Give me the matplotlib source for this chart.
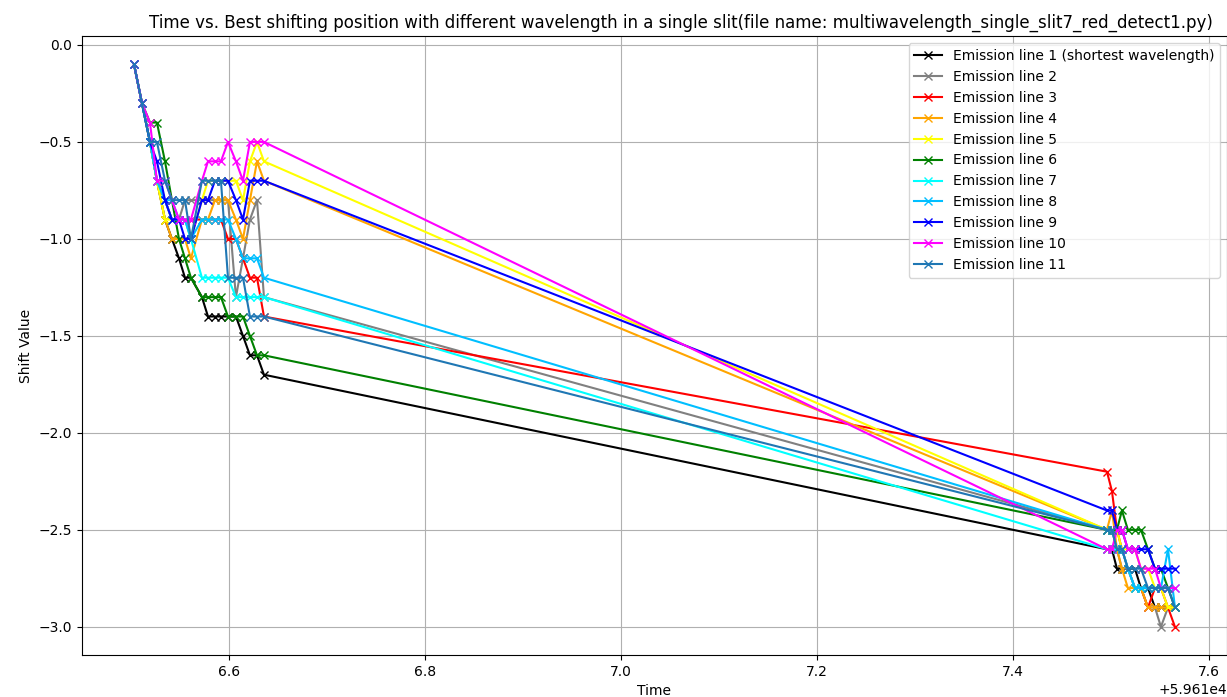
import matplotlib.pyplot as plt

# tiempos (MJD) de cada medicion
times = [59616.5031, 59616.5112, 59616.5194, 59616.5265, 59616.5347, 59616.5418,
         59616.5490, 59616.5551, 59616.5612, 59616.5724, 59616.5786, 59616.5857,
         59616.5918, 59616.5990, 59616.6071, 59616.6143, 59616.6214, 59616.6286,
         59616.6357,
         59617.4959, 59617.5010, 59617.5061, 59617.5112, 59617.5173, 59617.5245,
         59617.5306, 59617.5378, 59617.5449, 59617.5510, 59617.5582, 59617.5653]

line1 = [-0.1, -0.3, -0.5, -0.7, -0.9, -1.0, -1.1, -1.2, -1.2, -1.3, -1.4, -1.4, -1.4, -1.4, -1.4, -1.5, -1.6, -1.6, -1.7,
         -2.6, -2.6, -2.7, -2.7, -2.7, -2.7, -2.8, -2.8, -2.9, -2.9, -2.9, -2.9]
line2 = [-0.1, -0.3, -0.5, -0.7, -0.8, -0.9, -0.9, -0.8, -0.8, -0.8, -0.8, -0.8, -0.8, -0.8, -1.3, -1.1, -0.9, -0.8, -1.3,
         -2.5, -2.5, -2.6, -2.7, -2.7, -2.8, -2.8, -2.9, -2.9, -3.0, -2.9, -2.9]
line3 = [-0.1, -0.3, -0.5, -0.7, -0.8, -0.9, -0.9, -0.9, -0.9, -0.9, -0.9, -0.9, -0.9, -1.0, -1.0, -1.1, -1.2, -1.2, -1.4,
         -2.2, -2.3, -2.5, -2.6, -2.7, -2.8, -2.8, -2.9, -2.8, -2.8, -2.9, -3.0]
line4 = [-0.1, -0.3, -0.5, -0.7, -0.9, -1.0, -1.0, -1.0, -1.1, -0.9, -0.9, -0.8, -0.8, -0.8, -0.9, -1.0, -0.8, -0.6, -0.7,
         -2.5, -2.4, -2.6, -2.7, -2.8, -2.8, -2.8, -2.9, -2.9, -2.9, -2.9, -2.9]
line5 = [-0.1, -0.3, -0.5, -0.7, -0.9, -0.9, -0.9, -0.9, -1.0, -0.8, -0.7, -0.7, -0.7, -0.7, -0.7, -0.8, -0.6, -0.5, -0.6,
         -2.5, -2.5, -2.5, -2.6, -2.6, -2.6, -2.7, -2.7, -2.8, -2.8, -2.9, -2.9]
line6 = [-0.1, -0.3, -0.4, -0.4, -0.6, -0.8, -1.0, -1.1, -1.2, -1.3, -1.3, -1.3, -1.3, -1.4, -1.4, -1.4, -1.5, -1.6, -1.6,
         -2.5, -2.5, -2.5, -2.4, -2.5, -2.5, -2.5, -2.6, -2.7, -2.7, -2.8, -2.9]
line7 = [-0.1, -0.3, -0.5, -0.7, -0.8, -0.9, -0.9, -0.9, -1.0, -1.2, -1.2, -1.2, -1.2, -1.2, -1.3, -1.3, -1.3, -1.3, -1.3,
         -2.6, -2.6, -2.6, -2.6, -2.7, -2.8, -2.8, -2.8, -2.8, -2.8, -2.8, -2.8]
line8 = [-0.1, -0.3, -0.5, -0.7, -0.8, -0.8, -0.9, -0.9, -1.0, -0.9, -0.9, -0.9, -0.9, -0.9, -1.0, -1.1, -1.1, -1.1, -1.2,
         -2.5, -2.5, -2.6, -2.6, -2.7, -2.8, -2.8, -2.8, -2.8, -2.8, -2.6, -2.9]
line9 = [-0.1, -0.3, -0.5, -0.6, -0.8, -0.9, -0.9, -1.0, -1.0, -0.8, -0.8, -0.7, -0.7, -0.7, -0.8, -0.9, -0.7, -0.7, -0.7,
         -2.4, -2.4, -2.5, -2.5, -2.6, -2.6, -2.6, -2.6, -2.7, -2.7, -2.7, -2.7]
line10 = [-0.1, -0.3, -0.4, -0.7, -0.7, -0.8, -0.9, -0.9, -0.9, -0.7, -0.6, -0.6, -0.6, -0.5, -0.6, -0.7, -0.5, -0.5, -0.5,
          -2.6, -2.6, -2.5, -2.5, -2.6, -2.6, -2.7, -2.7, -2.7, -2.8, -2.8, -2.8]
line11 = [-0.1, -0.3, -0.5, -0.5, -0.7, -0.8, -0.8, -0.8, -1.0, -0.7, -0.7, -0.7, -0.7, -1.2, -1.2, -1.2, -1.4, -1.4, -1.4,
          -2.5, -2.5, -2.6, -2.6, -2.7, -2.7, -2.7, -2.8, -2.8, -2.8, -2.8, -2.9]

shifts = [line1, line2, line3, line4, line5, line6, line7, line8, line9, line10, line11]
labels = ['Emission line 1 (shortest wavelength)'] + [f'Emission line {i}' for i in range(2, 12)]
colors = ['black', 'gray', 'red', 'orange', 'yellow', 'green', 'cyan',
          'deepskyblue', 'blue', 'magenta', '#1f77b4']

fig, ax = plt.subplots(figsize=(12.27, 6.97), dpi=100)
fig.subplots_adjust(left=0.0668, right=1.0, bottom=0.0603, top=0.948)

for vals, lab, col in zip(shifts, labels, colors):
    ax.plot(times, vals, marker='x', color=col, label=lab)

# el titulo en la imagen original esta corrido un poco a la derecha
ax.set_title('Time vs. Best shifting position with different wavelength in a single slit'
             '(file name: multiwavelength_single_slit7_red_detect1.py)', fontsize=12, x=0.523)
ax.set_xlabel('Time')
ax.set_ylabel('Shift Value')
ax.grid(True)
ax.legend(loc='upper right')

plt.savefig('out.png', dpi=100)
plt.close()
